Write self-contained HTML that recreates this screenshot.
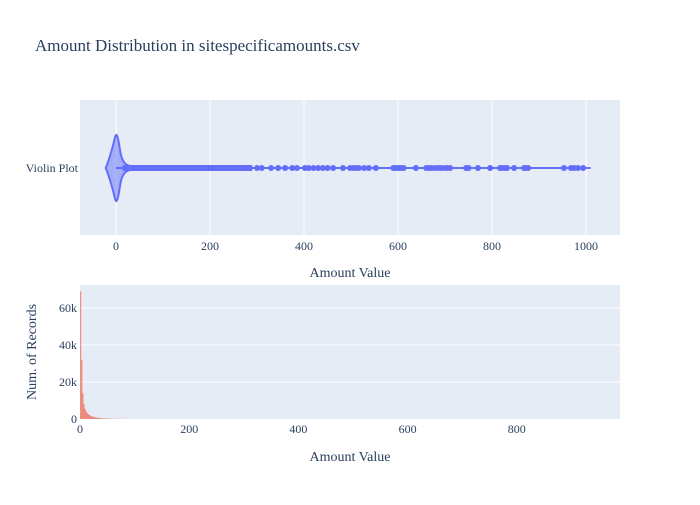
<!DOCTYPE html>
<html><head><meta charset="utf-8"><style>
body{margin:0;background:#fff;}
svg text{font-family:"Liberation Serif",serif;fill:#2a3f5f;}
</style></head><body>
<svg id="c" width="700" height="500" xmlns="http://www.w3.org/2000/svg">
<rect width="700" height="500" fill="#fff"/>
<text x="35" y="51" font-size="17">Amount Distribution in sitespecificamounts.csv</text>
<rect x="80" y="100" width="540" height="135" fill="#e5ecf6"/>
<rect x="80" y="285" width="540" height="134" fill="#e5ecf6"/>
<g id="g1"></g><g id="g2"></g>
<text x="350" y="277" font-size="14" text-anchor="middle">Amount Value</text>
<text x="350" y="461" font-size="14" text-anchor="middle">Amount Value</text>
<text x="78" y="172" font-size="12" text-anchor="end">Violin Plot</text>
<text transform="translate(36,352) rotate(-90)" font-size="14" text-anchor="middle">Num. of Records</text>
</svg>
<script>
const violinTicks=[0,200,400,600,800,1000];
const outliers=[300,310,330,345,360,375,385,402,410,420,430,440,450,462,483,498,505,512,517,528,538,553,590,595,600,606,612,638,660,666,672,680,686,692,700,705,711,745,750,770,796,817,822,827,832,847,868,872,877,953,968,975,983,994];
const denseMax=290;
const violinMax=1010;
const histTicksX=[0,200,400,600,800];
const histTicksY=[0,20000,40000,60000];
const histYLabels=["0","20k","40k","60k"];
const binWidth=2;
const binCounts=[69000,32000,14000,8000,5500,4200,3300,2700,2200,1800,1500,1300,1100,950,820,700,600,520,450,400,350,310,280,250,220,200,180,160,140,120,110,100,90,80,70,60,55,50,45,40,38,35,33,30,28,25];
const NS="http://www.w3.org/2000/svg";
function mk(p,t,a){const e=document.createElementNS(NS,t);for(const k in a)e.setAttribute(k,a[k]);p.appendChild(e);return e;}
const xv=v=>116+v*0.47;
const xh=v=>80+v*0.546;
const yh=v=>419-v*1.85/1000;
const g1=document.getElementById('g1'),g2=document.getElementById('g2');
violinTicks.forEach(t=>{
 const l=mk(g1,'line',{x1:xv(t),x2:xv(t),y1:100,y2:235,stroke:'#fff','stroke-width':1});
 
 const tx=mk(g1,'text',{x:xv(t),y:250,'font-size':12,'text-anchor':'middle'});tx.textContent=t;
 
});
const cy=168;
const wl=mk(g1,'line',{x1:xv(0),x2:xv(violinMax),y1:cy,y2:cy,stroke:'#636efa','stroke-width':2});

const vp=mk(g1,'path',{d:`M${xv(-22)},${cy} C${xv(-18)},${cy-4} ${xv(-8)},${cy-18} ${xv(-2)},${cy-31} C${xv(3)},${cy-38} ${xv(6)},${cy-25} ${xv(10)},${cy-14} C${xv(14)},${cy-6} ${xv(20)},${cy-3} ${xv(30)},${cy-2} L${xv(30)},${cy+2} C${xv(20)},${cy+3} ${xv(14)},${cy+6} ${xv(10)},${cy+14} C${xv(6)},${cy+25} ${xv(3)},${cy+38} ${xv(-2)},${cy+31} C${xv(-8)},${cy+18} ${xv(-18)},${cy+4} ${xv(-22)},${cy} Z`,fill:'rgba(99,110,250,0.5)',stroke:'#636efa','stroke-width':2});

const band=mk(g1,'rect',{x:xv(14),y:cy-3,width:xv(denseMax)-xv(14),height:6,fill:'#636efa'});

outliers.forEach(v=>{const c=mk(g1,'circle',{cx:xv(v),cy:cy,r:3,fill:'#636efa'});
 });
histTicksY.forEach((t,i)=>{
 if(i>0){const l=mk(g2,'line',{x1:80,x2:620,y1:yh(t),y2:yh(t),stroke:'#fff','stroke-width':1});
 }
 const tx=mk(g2,'text',{x:77,y:yh(t)+4,'font-size':12,'text-anchor':'end'});tx.textContent=histYLabels[i];
 
});
histTicksX.forEach(t=>{
 const tx=mk(g2,'text',{x:xh(t),y:433,'font-size':12,'text-anchor':'middle'});tx.textContent=t;
 
});
binCounts.forEach((c,i)=>{
 const r=mk(g2,'rect',{x:xh(i*binWidth),y:yh(c),width:xh(binWidth)-xh(0)+0.2,height:419-yh(c),fill:'rgba(239,85,59,0.6)'});
 
});
</script>
</body></html>
